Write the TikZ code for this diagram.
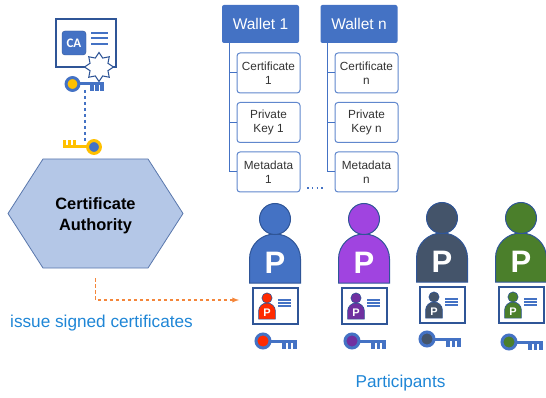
\documentclass[tikz,border=0pt]{standalone}
\usepackage{fontspec}
\usepackage{xcolor}
\setmainfont{Liberation Sans}
\newfontfamily\carlito{Carlito}
\usetikzlibrary{positioning,shapes.geometric,shapes.symbols}
\definecolor{walletblue}{HTML}{4472C4}
\definecolor{edgeblue}{HTML}{2F5597}
\definecolor{hexblue}{HTML}{B4C7E7}
\definecolor{textblue}{HTML}{1F86D6}
\definecolor{keygold}{HTML}{FFC000}
\definecolor{dashorange}{HTML}{F4863A}
\definecolor{ppurple}{HTML}{A044E0}
\definecolor{mpurple}{HTML}{7030A0}
\definecolor{pslate}{HTML}{44546A}
\definecolor{pgreen}{HTML}{4B7F2B}
\definecolor{pred}{HTML}{FF2A00}
\tikzset{
  wallet/.style={fill=walletblue,rounded corners=2pt,minimum width=77pt,minimum height=38pt,
    inner sep=0pt,text=white,font=\fontsize{15.5}{18}\selectfont},
  item/.style={draw=walletblue!85,line width=1pt,fill=white,rounded corners=3pt,minimum width=63pt,
    minimum height=40pt,inner sep=0pt,align=center,text=black!80,font=\fontsize{11.8}{14.5}\selectfont},
  branch/.style={draw=walletblue,line width=1pt},
  hexa/.style={signal,signal to=west and east,signal pointer angle=114.6,draw=edgeblue!80,line width=.8pt,
    fill=hexblue,minimum width=175pt,minimum height=109pt,inner sep=0pt},
  hexatext/.style={inner sep=0pt,align=center,font=\bfseries\fontsize{16.4}{21}\selectfont},
  idcard/.style={draw=edgeblue,line width=1.8pt,fill=white,minimum width=45pt,minimum height=36pt,inner sep=0pt},
  caption/.style={text=textblue,inner sep=0pt,font=\fontsize{17.2}{20}\selectfont},
  pics/figure/.style n args={3}{code={
    \fill[#1,draw=edgeblue,line width=#3] (-25.5,64) -- (-25.5,40) .. controls (-25.5,26) and (-14,15) .. (0,15)
      .. controls (14,15) and (25.5,26) .. (25.5,40) -- (25.5,64) -- cycle;
    \fill[#1,draw=edgeblue,line width=#3] (0,0) circle (15.5);
    \node[text=white,inner sep=0pt] at (0,44) {\bfseries\fontsize{#2}{#2}\selectfont P};
  }},
  pics/person/.style n args={2}{code={
    \pic {figure={#1}{31}{1pt}};
    \node[idcard] (-card) at (0.5,87) {};
    \pic[scale=.33] at (-8,79) {figure={#2}{11}{.6pt}};
    \draw[walletblue,line width=1.1pt] (3,81) -- (16,81) (3,84) -- (16,84) (3,87) -- (16,87);
  }},
  pics/key/.style n args={2}{code={
    \draw[#1,line width=3pt] (8,0) -- (34,0);
    \draw[#1,line width=3.4pt] (21,0) -- (21,7.5) (26.5,0) -- (26.5,7.5) (32,0) -- (32,7.5);
    \fill[#2,draw=#1,line width=3pt] (0,0) circle (7);
  }},
}
\begin{document}
\begin{tikzpicture}[x=1pt,y=-1pt,node distance=49.5pt,on grid]
  \useasboundingbox (0,0) rectangle (546,398);
  % certificate authority
  \node[hexa] (ca) at (95.5,213.5) {};
  \node[hexatext] (catext) at (95.5,215.5) {Certificate\\Authority};
  \node[draw=edgeblue,line width=1.6pt,fill=white,minimum width=60pt,minimum height=48pt,inner sep=0pt] (cacert) at (86,43) {};
  \node[fill=walletblue,draw=edgeblue,rounded corners=3pt,minimum width=24pt,minimum height=24pt,inner sep=0pt,
    text=white,font=\carlito\bfseries\fontsize{13}{13}\selectfont] (cabadge) at (74,43) {CA};
  \draw[walletblue,line width=1.2pt] (91,33) -- (108,33) (91,38) -- (108,38) (91,44) -- (108,44);
  \node[star,star points=8,star point ratio=1.5,minimum size=29pt,inner sep=0pt,draw=edgeblue,line width=1pt,fill=white] (caseal) at (99,67) {};
  % keys and link
  \coordinate (keytop) at (85,90);
  \coordinate (keybottom) at (85,141);
  \draw[walletblue,line width=2.6pt,dash pattern=on 3pt off 3pt] (keytop) -- (keybottom);
  \pic[scale=.92] at (72.5,84) {key={walletblue}{keygold}};
  \pic[scale=.92,rotate=180] at (94,147) {key={keygold}{walletblue}};
  % wallets
  \node[wallet] (w_1) at (260.5,24) {Wallet 1};
  \node[wallet] (w_n) at (359,24) {Wallet n};
  \coordinate (t_1) at (229,43);
  \coordinate (t_n) at (327,43);
  \node[item] (c_1) [below right=49pt and 8pt of w_1] {Certificate\\1};
  \node[item] (k_1) [below=of c_1] {Private\\Key 1};
  \node[item] (m_1) [below=of k_1] {Metadata\\1};
  \node[item] (c_n) [below right=49pt and 7.5pt of w_n] {Certificate\\n};
  \node[item] (k_n) [below=of c_n] {Private\\Key n};
  \node[item] (m_n) [below=of k_n] {Metadata\\n};
  \path[branch]
  (t_1) |- (c_1.west)
  (t_1) |- (k_1.west)
  (t_1) |- (m_1.west)
  (t_n) |- (c_n.west)
  (t_n) |- (k_n.west)
  (t_n) |- (m_n.west);
  \coordinate (d_1) at (307,188);
  \coordinate (d_2) at (326,188);
  \draw[walletblue,line width=1.4pt,dash pattern=on 1.6pt off 3.2pt] (d_1) -- (d_2);
  % participants
  \pic (p_1) at (275,219) {person={walletblue}{pred}};
  \pic (p_2) at (364,219) {person={ppurple}{mpurple}};
  \pic (p_3) at (442,218) {person={pslate}{pslate}};
  \pic (p_4) at (521,218) {person={pgreen}{pgreen}};
  \pic at (263,341) {key={walletblue}{pred}};
  \pic at (352,341) {key={walletblue}{mpurple}};
  \pic at (427,339) {key={walletblue}{pslate}};
  \pic at (509,342) {key={walletblue}{pgreen}};
  % issuing
  \coordinate (issue) at (239,300);
  \draw[dashorange,line width=1.3pt,dash pattern=on 3.5pt off 2.5pt,-latex,shorten <=10pt] (ca.south) |- (issue);
  \node[caption] (signed) at (101.5,323) {issue signed certificates};
  \node[caption] (group) at (400.5,383) {Participants};
\end{tikzpicture}
\end{document}
